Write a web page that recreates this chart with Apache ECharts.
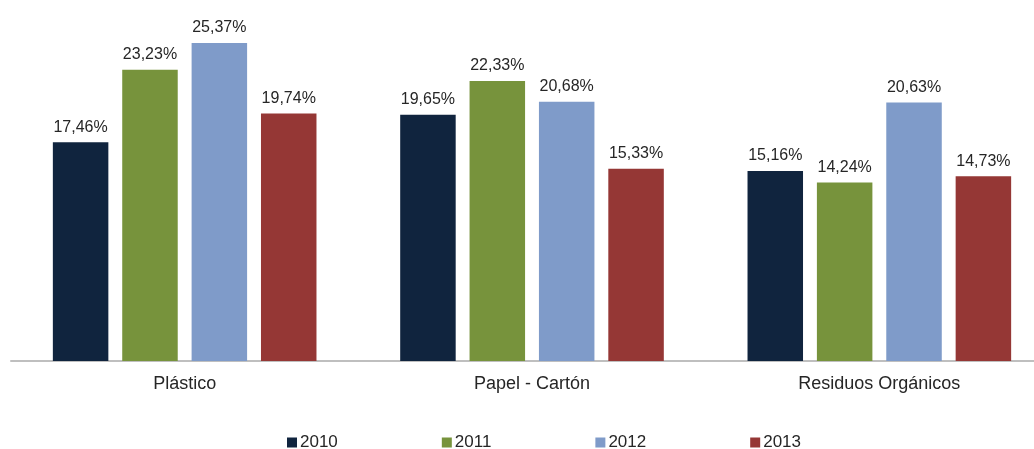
<!DOCTYPE html>
<html>
<head>
<meta charset="utf-8">
<script src="https://cdn.jsdelivr.net/npm/echarts@6/dist/echarts.min.js"></script>
<style>html,body{margin:0;padding:0;background:#fff;overflow:hidden}#c{width:1062px;height:449px}</style>
</head>
<body>
<div id="c"></div>
<script>
const categories = ['Plástico', 'Papel - Cartón', 'Residuos Orgánicos'];
const years = ['2010', '2011', '2012', '2013'];
const v2010 = [17.46, 19.65, 15.16];
const v2011 = [23.23, 22.33, 14.24];
const v2012 = [25.37, 20.68, 20.63];
const v2013 = [19.74, 15.33, 14.73];
const colors = ['#10243E', '#77933C', '#7F9BC9', '#953735'];

const seriesValues = [v2010, v2011, v2012, v2013];
const chart = echarts.init(document.getElementById('c'));
chart.setOption({
  animation: false,
  grid: { left: 11, top: 10, right: 9, bottom: 88, containLabel: false },
  legend: {
    top: 429,
    left: 282,
    itemWidth: 10, itemHeight: 10, itemGap: 104,
    icon: 'rect',
    textStyle: { fontFamily: 'Liberation Sans, Arial', fontSize: 17, color: '#262626', padding: [0,0,0,-2] },
    data: years
  },
  xAxis: {
    type: 'category',
    data: categories,
    axisLine: { lineStyle: { color: '#BFBFBF', width: 2 } },
    axisTick: { show: false },
    axisLabel: { fontFamily: 'Liberation Sans, Arial', fontSize: 18, color: '#262626', margin: 14 }
  },
  yAxis: {
    type: 'value', min: 0, max: 28,
    show: false,
    splitLine: { show: false }
  },
  series: seriesValues.map((vals, i) => ({
    name: years[i],
    type: 'bar',
    data: vals,
    barWidth: 55.5,
    barGap: '25%',
    itemStyle: { color: colors[i] },
    label: {
      show: true, position: 'top', distance: 7,
      fontFamily: 'Liberation Sans, Arial', fontSize: 16, color: '#262626',
      formatter: p => p.value.toFixed(2).replace('.', ',') + '%'
    }
  }))
});
</script>
</body>
</html>
